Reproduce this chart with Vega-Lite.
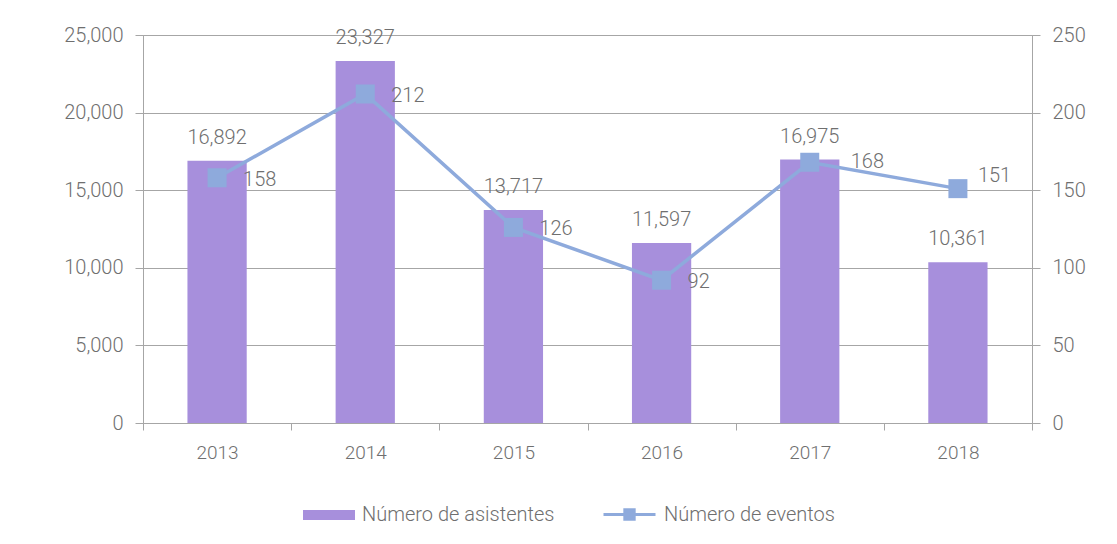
{
  "$schema": "https://vega.github.io/schema/vega-lite/v6.json",
  "width": 889,
  "height": 388,
  "autosize": "none",
  "padding": {"left": 143, "top": 35, "right": 85, "bottom": 121},
  "background": "white",
  "config": {
    "font": "Roboto",
    "view": {"stroke": "#a6a6a6", "strokeWidth": 1},
    "axis": {
      "labelColor": "#6f6f6f",
      "labelFont": "Roboto",
      "labelFontWeight": 300,
      "domainColor": "#a6a6a6",
      "tickColor": "#a6a6a6",
      "gridColor": "#a6a6a6",
      "title": null
    },
    "legend": {
      "labelColor": "#6f6f6f",
      "labelFont": "Roboto",
      "labelFontWeight": 300,
      "labelFontSize": 20,
      "labelLimit": 400,
      "padding": 0,
      "labelOffset": 7
    }
  },
  "data": {
    "values": [
      {"year": "2013", "asistentes": 16892, "eventos": 158},
      {"year": "2014", "asistentes": 23327, "eventos": 212},
      {"year": "2015", "asistentes": 13717, "eventos": 126},
      {"year": "2016", "asistentes": 11597, "eventos": 92},
      {"year": "2017", "asistentes": 16975, "eventos": 168},
      {"year": "2018", "asistentes": 10361, "eventos": 151}
    ]
  },
  "encoding": {
    "x": {
      "field": "year",
      "type": "ordinal",
      "scale": {"paddingInner": 0, "paddingOuter": 0},
      "axis": {
        "labelAngle": 0,
        "labelFontSize": 19,
        "tickSize": 7,
        "tickBand": "extent",
        "labelPadding": 13,
        "grid": false,
        "domain": true
      }
    }
  },
  "layer": [
    {
      "encoding": {
        "y": {
          "field": "asistentes",
          "type": "quantitative",
          "scale": {"domain": [0, 25000], "nice": false},
          "axis": {
            "orient": "left",
            "values": [0, 5000, 10000, 15000, 20000, 25000],
            "labelExpr": "format(datum.value, ',')",
            "labelFontSize": 20,
            "tickSize": 8,
            "labelPadding": 12,
            "grid": true
          }
        }
      },
      "layer": [
        {
          "mark": {"type": "bar", "width": {"band": 0.4}},
          "encoding": {
            "fill": {
              "datum": "Número de asistentes",
              "scale": {"range": ["#a78fdc"]},
              "legend": {
                "orient": "none",
                "legendX": 160,
                "legendY": 454,
                "title": null,
                "symbolType": "M-1,-0.19H1V0.19H-1Z",
                "symbolSize": 2704,
                "symbolStrokeWidth": 0
              }
            }
          }
        },
        {
          "mark": {"type": "text", "dy": -23, "baseline": "middle", "align": "center", "fontSize": 20, "fontWeight": 300, "color": "#6f6f6f"},
          "encoding": {"text": {"field": "asistentes", "type": "quantitative", "format": ","}}
        }
      ]
    },
    {
      "encoding": {
        "y": {
          "field": "eventos",
          "type": "quantitative",
          "scale": {"domain": [0, 250], "nice": false},
          "axis": {
            "orient": "right",
            "values": [0, 50, 100, 150, 200, 250],
            "labelFontSize": 20,
            "tickSize": 8,
            "labelPadding": 12,
            "grid": false
          }
        }
      },
      "layer": [
        {
          "mark": {"type": "line", "strokeWidth": 3.5},
          "encoding": {
            "stroke": {
              "datum": "Número de eventos",
              "scale": {"range": ["#8eaadc"]},
              "legend": {
                "orient": "none",
                "legendX": 459,
                "legendY": 452,
                "title": null,
                "symbolType": "M-1,0H1M-0.18,-0.18H0.18V0.18H-0.18Z",
                "symbolSize": 2704,
                "symbolStrokeWidth": 3,
                "symbolFillColor": "#8eaadc"
              }
            }
          }
        },
        {
          "mark": {"type": "point", "shape": "square", "filled": true, "size": 361, "opacity": 1, "color": "#8eaadc"}
        },
        {
          "transform": [{"filter": "datum.year != '2017' && datum.year != '2018'"}],
          "mark": {"type": "text", "dx": 26, "dy": 2, "align": "left", "baseline": "middle", "fontSize": 20, "fontWeight": 300, "color": "#6f6f6f"},
          "encoding": {"text": {"field": "eventos", "type": "quantitative"}}
        },
        {
          "transform": [{"filter": "datum.year == '2017'"}],
          "mark": {"type": "text", "dx": 41, "dy": 0, "align": "left", "baseline": "middle", "fontSize": 20, "fontWeight": 300, "color": "#6f6f6f"},
          "encoding": {"text": {"field": "eventos", "type": "quantitative"}}
        },
        {
          "transform": [{"filter": "datum.year == '2018'"}],
          "mark": {"type": "text", "dx": 20, "dy": -13, "align": "left", "baseline": "middle", "fontSize": 20, "fontWeight": 300, "color": "#6f6f6f"},
          "encoding": {"text": {"field": "eventos", "type": "quantitative"}}
        }
      ]
    }
  ],
  "resolve": {"scale": {"y": "independent", "fill": "independent", "stroke": "independent"}}
}
